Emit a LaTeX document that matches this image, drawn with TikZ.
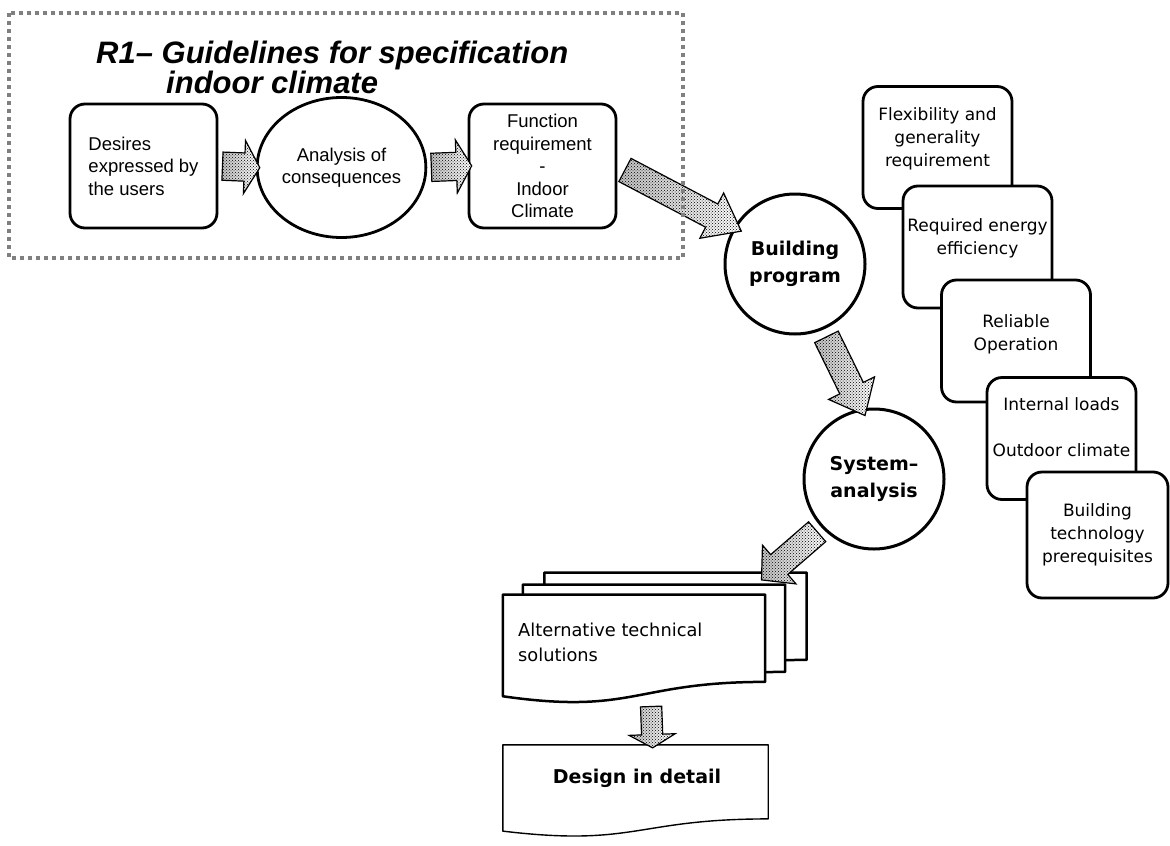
\documentclass[tikz,border=0pt]{standalone}
\usepackage{fontspec}
\setmainfont{DejaVu Sans}
\newfontfamily\arialfont{Liberation Sans}
\usetikzlibrary{calc, positioning, shapes.arrows, shapes.geometric, patterns}

\tikzset{
	userbox/.style={draw, line width=2.8pt, rounded corners=15pt, minimum width=147pt, minimum height=124pt, inner sep=0pt, font=\arialfont\fontsize{18.5}{22.5}\selectfont},
	analysisell/.style={draw, ellipse, line width=2.8pt, minimum width=132pt, minimum height=140pt, inner sep=0pt, align=center, font=\arialfont\fontsize{18.5}{22.5}\selectfont},
	bigcircle/.style={draw, circle, line width=3pt, minimum size=140pt, inner sep=0pt, align=center, font=\bfseries\fontsize{19}{27}\selectfont},
	reqbox/.style={draw, fill=white, line width=2.8pt, rounded corners=15pt, minimum width=149pt, minimum height=122pt},
	reqtext/.style={align=center, inner sep=0pt, font=\fontsize{17}{23}\selectfont},
	docframe/.style={minimum width=262pt, minimum height=108.5pt, inner sep=0pt},
	docline/.style={draw, fill=white, line width=2.5pt, line join=round},
	fatarrow/.style={single arrow, draw, line width=1.2pt, inner xsep=0pt, inner ysep=13.5pt, single arrow head extend=12.5pt, single arrow tip angle=120, single arrow head indent=0pt, left color=gray!50, right color=white, postaction={pattern=crosshatch dots}},
	gridframe/.style={draw=black!50, line width=4pt, dash pattern=on 4pt off 4pt}
}

% block arrow between two points: name, from, to
\newcommand{\fatarrow}[4][]{%
	\path let \p1=($(#4)-(#3)$) in
		node[fatarrow, #1, minimum height={veclen(\x1,\y1)}, rotate={atan2(\y1,\x1)}] (#2) at ($(#3)!0.5!(#4)$) {};
}
% document outline with wavy bottom round a frame node
\newcommand{\docoutline}[2][]{%
	\path[docline, #1] (#2.north west) -- (#2.north east)
		-- ($(#2.north east)!0.802!(#2.south east)$)
		.. controls ($(#2.north)!0.802!(#2.south)$) and ($(#2.north)!1.107!(#2.south)$)
		.. ($(#2.north west)!0.934!(#2.south west)$) -- cycle;
}

\begin{document}
\begin{tikzpicture}[x=1pt, y=-1pt]
	\useasboundingbox (0,0) rectangle (1170,846);

	% indoor climate guidelines
	\node[anchor=north west, inner sep=0pt, align=left, font=\arialfont\bfseries\itshape\fontsize{31}{27}\selectfont] (title) at (96,41) {R1– Guidelines for specification\\\hspace*{70pt}indoor climate};
	\node[userbox, align=left] (desires) at (143.5,166) {Desires\\expressed by\\the users};
	\node[analysisell] (analysis) at (341.5,167.5) {Analysis of\\consequences};
	\node[userbox, align=center] (func) at (542.5,166) {Function\\requirement\\-\\Indoor\\Climate};

	\node[bigcircle] (bprog) at (795,264) {Building\\program};
	\node[bigcircle] (sysan) at (874,479) {System–\\analysis};

	\fatarrow{arr1}{desires.east}{analysis.west}
	\fatarrow{arr2}{analysis.east}{func.west}
	\fatarrow[inner ysep=12.5pt, single arrow tip angle=75]{arr3}{func.east}{bprog.149}
	\draw[gridframe] (9,13) rectangle (683,258);
	\fatarrow[inner ysep=12.5pt, single arrow tip angle=80]{arr4}{bprog.-67}{sysan.100}

	% requirements
	\node[reqbox] (flexbox) at (937.5,147.5) {};
	\node[reqtext] (flextext) at ([yshift=9pt]flexbox.center) {Flexibility and\\generality\\requirement};
	\node[reqbox] (energybox) at (977.5,247) {};
	\node[reqtext] (energytext) at ([yshift=9pt]energybox.center) {Required energy\\efficiency};
	\node[reqbox] (reliabbox) at (1016,341) {};
	\node[reqtext] (reliabtext) at ([yshift=7pt]reliabbox.center) {Reliable\\Operation};
	\node[reqbox] (loadsbox) at (1061.5,438.5) {};
	\node[reqtext] (loadstext) at ([yshift=11pt]loadsbox.center) {Internal loads\\[23pt]Outdoor climate};
	\node[reqbox, minimum width=141pt, minimum height=126pt] (techbox) at (1097.5,535) {};
	\node[reqtext] (techtext) at (techbox.center) {Building\\technology\\prerequisites};

	% alternatives
	\node[docframe] (backdoc) at (675.5,627) {};
	\node[docframe] (middoc) at (654,639) {};
	\node[docframe] (altdoc) at (634,649) {};
	\docoutline{backdoc}
	\docoutline{middoc}
	\docoutline{altdoc}
	\node[anchor=north west, inner sep=0pt, align=left, font=\fontsize{17.8}{25}\selectfont] (alttext) at (518,623) {Alternative technical\\solutions};
	\coordinate (doctip) at (766,576);
	\fatarrow[inner ysep=12.5pt, single arrow tip angle=95]{arr5}{sysan.223}{doctip}

	\node[docframe, minimum width=265pt, minimum height=92pt] (design) at (635.5,791) {};
	\docoutline[line width=1.4pt]{design}
	\node[inner sep=0pt, font=\bfseries\fontsize{19}{23}\selectfont] (designtext) at (637,778) {Design in detail};
	\coordinate (a6s) at ([xshift=17pt]altdoc.south);
	\coordinate (a6e) at ([xshift=17pt]design.north);
	\fatarrow[inner ysep=10pt]{arr6}{a6s}{a6e}
\end{tikzpicture}
\end{document}
